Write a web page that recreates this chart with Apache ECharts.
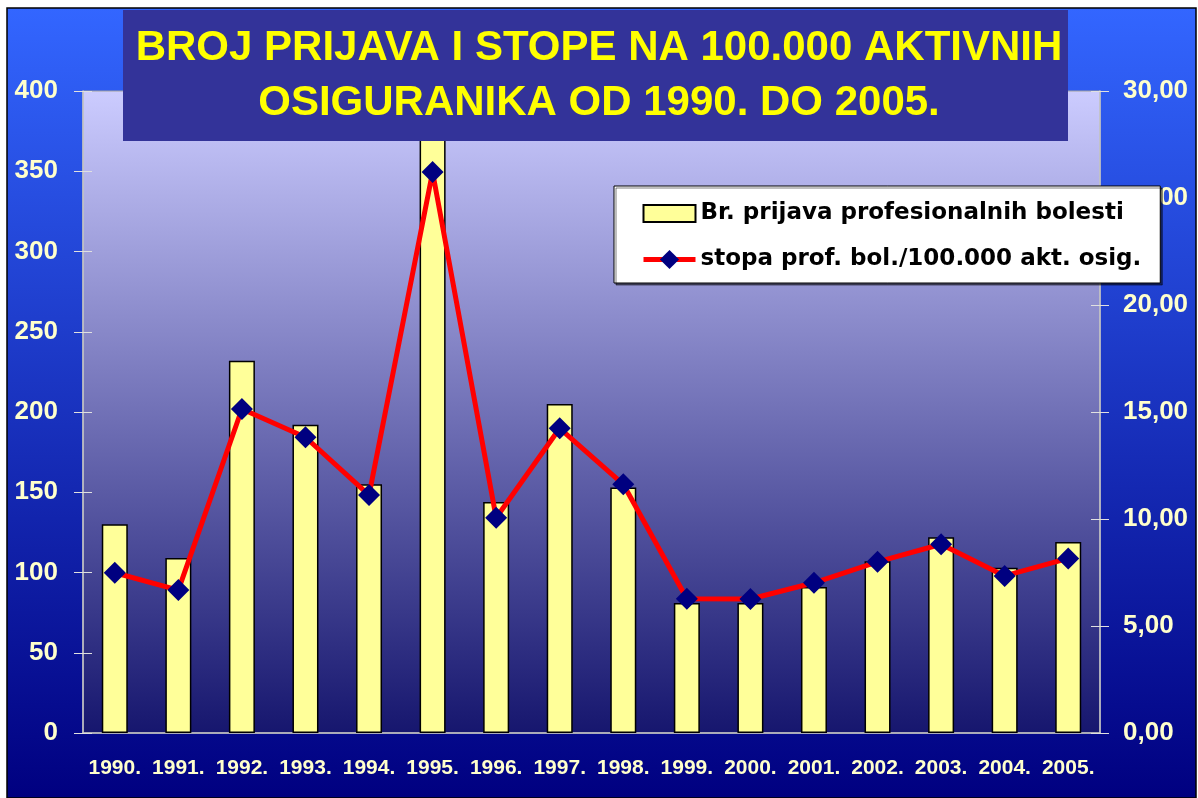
<!DOCTYPE html>
<html>
<head>
<meta charset="utf-8">
<title>Broj prijava i stope</title>
<script src="https://cdn.jsdelivr.net/npm/echarts@6/dist/echarts.min.js"></script>
<style>
html, body { margin: 0; padding: 0; background: #fff; }
#chart { width: 1198px; height: 798px; }
</style>
</head>
<body>
<div id="chart"></div>
<script>
// podaci ocitani sa slike
var godine = ['1990.', '1991.', '1992.', '1993.', '1994.', '1995.', '1996.', '1997.',
              '1998.', '1999.', '2000.', '2001.', '2002.', '2003.', '2004.', '2005.'];
var brojPrijava = [130, 109, 232, 192, 155, 410, 144, 205, 153, 81, 81, 91, 107, 122, 103, 119];
var stopa = [7.49, 6.68, 15.14, 13.82, 11.12, 26.21, 10.06, 14.24, 11.62, 6.27, 6.26, 7.02, 8.00, 8.82, 7.34, 8.16];

var nazivStupci = 'Br. prijava profesionalnih bolesti';
var nazivLinija = 'stopa prof. bol./100.000 akt. osig.';
var naslov = 'BROJ PRIJAVA I STOPE NA 100.000 AKTIVNIH\nOSIGURANIKA OD 1990. DO 2005.';

// skale osi
var lijevaOs = {min: 0, max: 400, interval: 50};
var desnaOs = {min: 0, max: 30, interval: 5};

var labelBoja = '#FFFFCC';
var osBoja = '#C8C8C8';

var zarez = function(v){
    return v.toFixed(2).replace('.', ',');
};

var option = {
    backgroundColor: '#ffffff',
    animation: false,
    graphic: [
        {
            type: 'rect',
            z: -10,
            shape: {x: 7, y: 8, width: 1189, height: 790},
            style: {
                fill: new echarts.graphic.LinearGradient(0, 0, 0, 1, [
                    {offset: 0, color: '#3366FF'},
                    {offset: 1, color: '#000080'}
                ]),
                stroke: '#000000',
                lineWidth: 1.5
            }
        },
        {
            type: 'rect',
            z: 100,
            shape: {x: 123, y: 10, width: 945, height: 131},
            style: {fill: '#333399'}
        }
    ],
    title: {
        text: naslov,
        left: 'center',
        top: 16,
        z: 101,
        textStyle: {
            color: '#FFFF00',
            fontFamily: 'Arial, "Liberation Sans"',
            fontWeight: 'bold',
            fontSize: 42,
            lineHeight: 55
        }
    },
    legend: {
        orient: 'vertical',
        left: 614,
        top: 186,
        padding: [16, 19, 12, 27],
        itemGap: 23,
        itemWidth: 52,
        itemHeight: 24,
        backgroundColor: '#ffffff',
        borderColor: '#000000',
        borderWidth: 1,
        shadowColor: 'rgba(0,0,0,0.5)',
        shadowOffsetX: 2,
        shadowOffsetY: 2,
        textStyle: {
            color: '#000000',
            fontFamily: '"DejaVu Sans", Arial',
            fontWeight: 'bold',
            fontSize: 23
        },
        data: [
            {name: nazivStupci, icon: 'path://M0,0L52,0L52,17L0,17Z'},
            {name: nazivLinija, lineStyle: {width: 5}}
        ]
    },
    grid: {
        left: 83,
        right: 98,
        top: 91,
        bottom: 65,
        show: true,
        borderColor: '#A0A0A0',
        borderWidth: 1,
        backgroundColor: new echarts.graphic.LinearGradient(0, 0, 0, 1, [
            {offset: 0, color: '#CCCCFF'},
            {offset: 1, color: '#16166E'}
        ])
    },
    xAxis: [
        {
            type: 'category',
            data: godine,
            axisLine: {lineStyle: {color: osBoja, width: 1.5}},
            axisTick: {length: 7, lineStyle: {color: '#E0E0E0'}},
            axisLabel: {
                interval: 0,
                margin: 25,
                color: labelBoja,
                fontFamily: 'Arial, "Liberation Sans"',
                fontWeight: 'bold',
                fontSize: 21
            }
        },
        {
            // unutarnje crtice (kriz)
            type: 'category',
            data: godine,
            position: 'bottom',
            axisLine: {show: false},
            axisTick: {inside: true, length: 7, lineStyle: {color: '#E0E0E0'}},
            axisLabel: {show: false}
        }
    ],
    yAxis: [
        {
            type: 'value',
            position: 'left',
            min: lijevaOs.min, max: lijevaOs.max, interval: lijevaOs.interval,
            splitLine: {show: false},
            axisLine: {show: true, lineStyle: {color: osBoja, width: 1.5}},
            axisTick: {show: true, length: 9, lineStyle: {color: '#E0E0E0'}},
            axisLabel: {
                margin: 25,
                color: labelBoja,
                fontFamily: 'Arial, "Liberation Sans"',
                fontWeight: 'bold',
                fontSize: 26
            }
        },
        {
            type: 'value',
            position: 'right',
            min: desnaOs.min, max: desnaOs.max, interval: desnaOs.interval,
            splitLine: {show: false},
            axisLine: {show: true, lineStyle: {color: osBoja, width: 1.5}},
            axisTick: {show: true, length: 9, lineStyle: {color: '#E0E0E0'}},
            axisLabel: {
                margin: 23,
                color: labelBoja,
                fontFamily: 'Arial, "Liberation Sans"',
                fontWeight: 'bold',
                fontSize: 26,
                formatter: zarez
            }
        },
        {
            type: 'value',
            position: 'left',
            min: lijevaOs.min, max: lijevaOs.max, interval: lijevaOs.interval,
            splitLine: {show: false},
            axisLine: {show: false},
            axisTick: {show: true, inside: true, length: 9, lineStyle: {color: '#E0E0E0'}},
            axisLabel: {show: false}
        },
        {
            type: 'value',
            position: 'right',
            min: desnaOs.min, max: desnaOs.max, interval: desnaOs.interval,
            splitLine: {show: false},
            axisLine: {show: false},
            axisTick: {show: true, inside: true, length: 9, lineStyle: {color: '#E0E0E0'}},
            axisLabel: {show: false}
        }
    ],
    series: [
        {
            name: nazivStupci,
            type: 'bar',
            xAxisIndex: 0,
            yAxisIndex: 0,
            barWidth: 26,
            clip: true,
            data: brojPrijava,
            itemStyle: {
                color: '#FFFF99',
                borderColor: '#000000',
                borderWidth: 1.5
            }
        },
        {
            name: nazivLinija,
            type: 'line',
            xAxisIndex: 0,
            yAxisIndex: 1,
            z: 5,
            data: stopa,
            symbol: 'diamond',
            symbolSize: 22,
            lineStyle: {color: '#FF0000', width: 5},
            itemStyle: {color: '#000080'}
        }
    ]
};

var myChart = echarts.init(document.getElementById('chart'));
myChart.setOption(option);
</script>
</body>
</html>
